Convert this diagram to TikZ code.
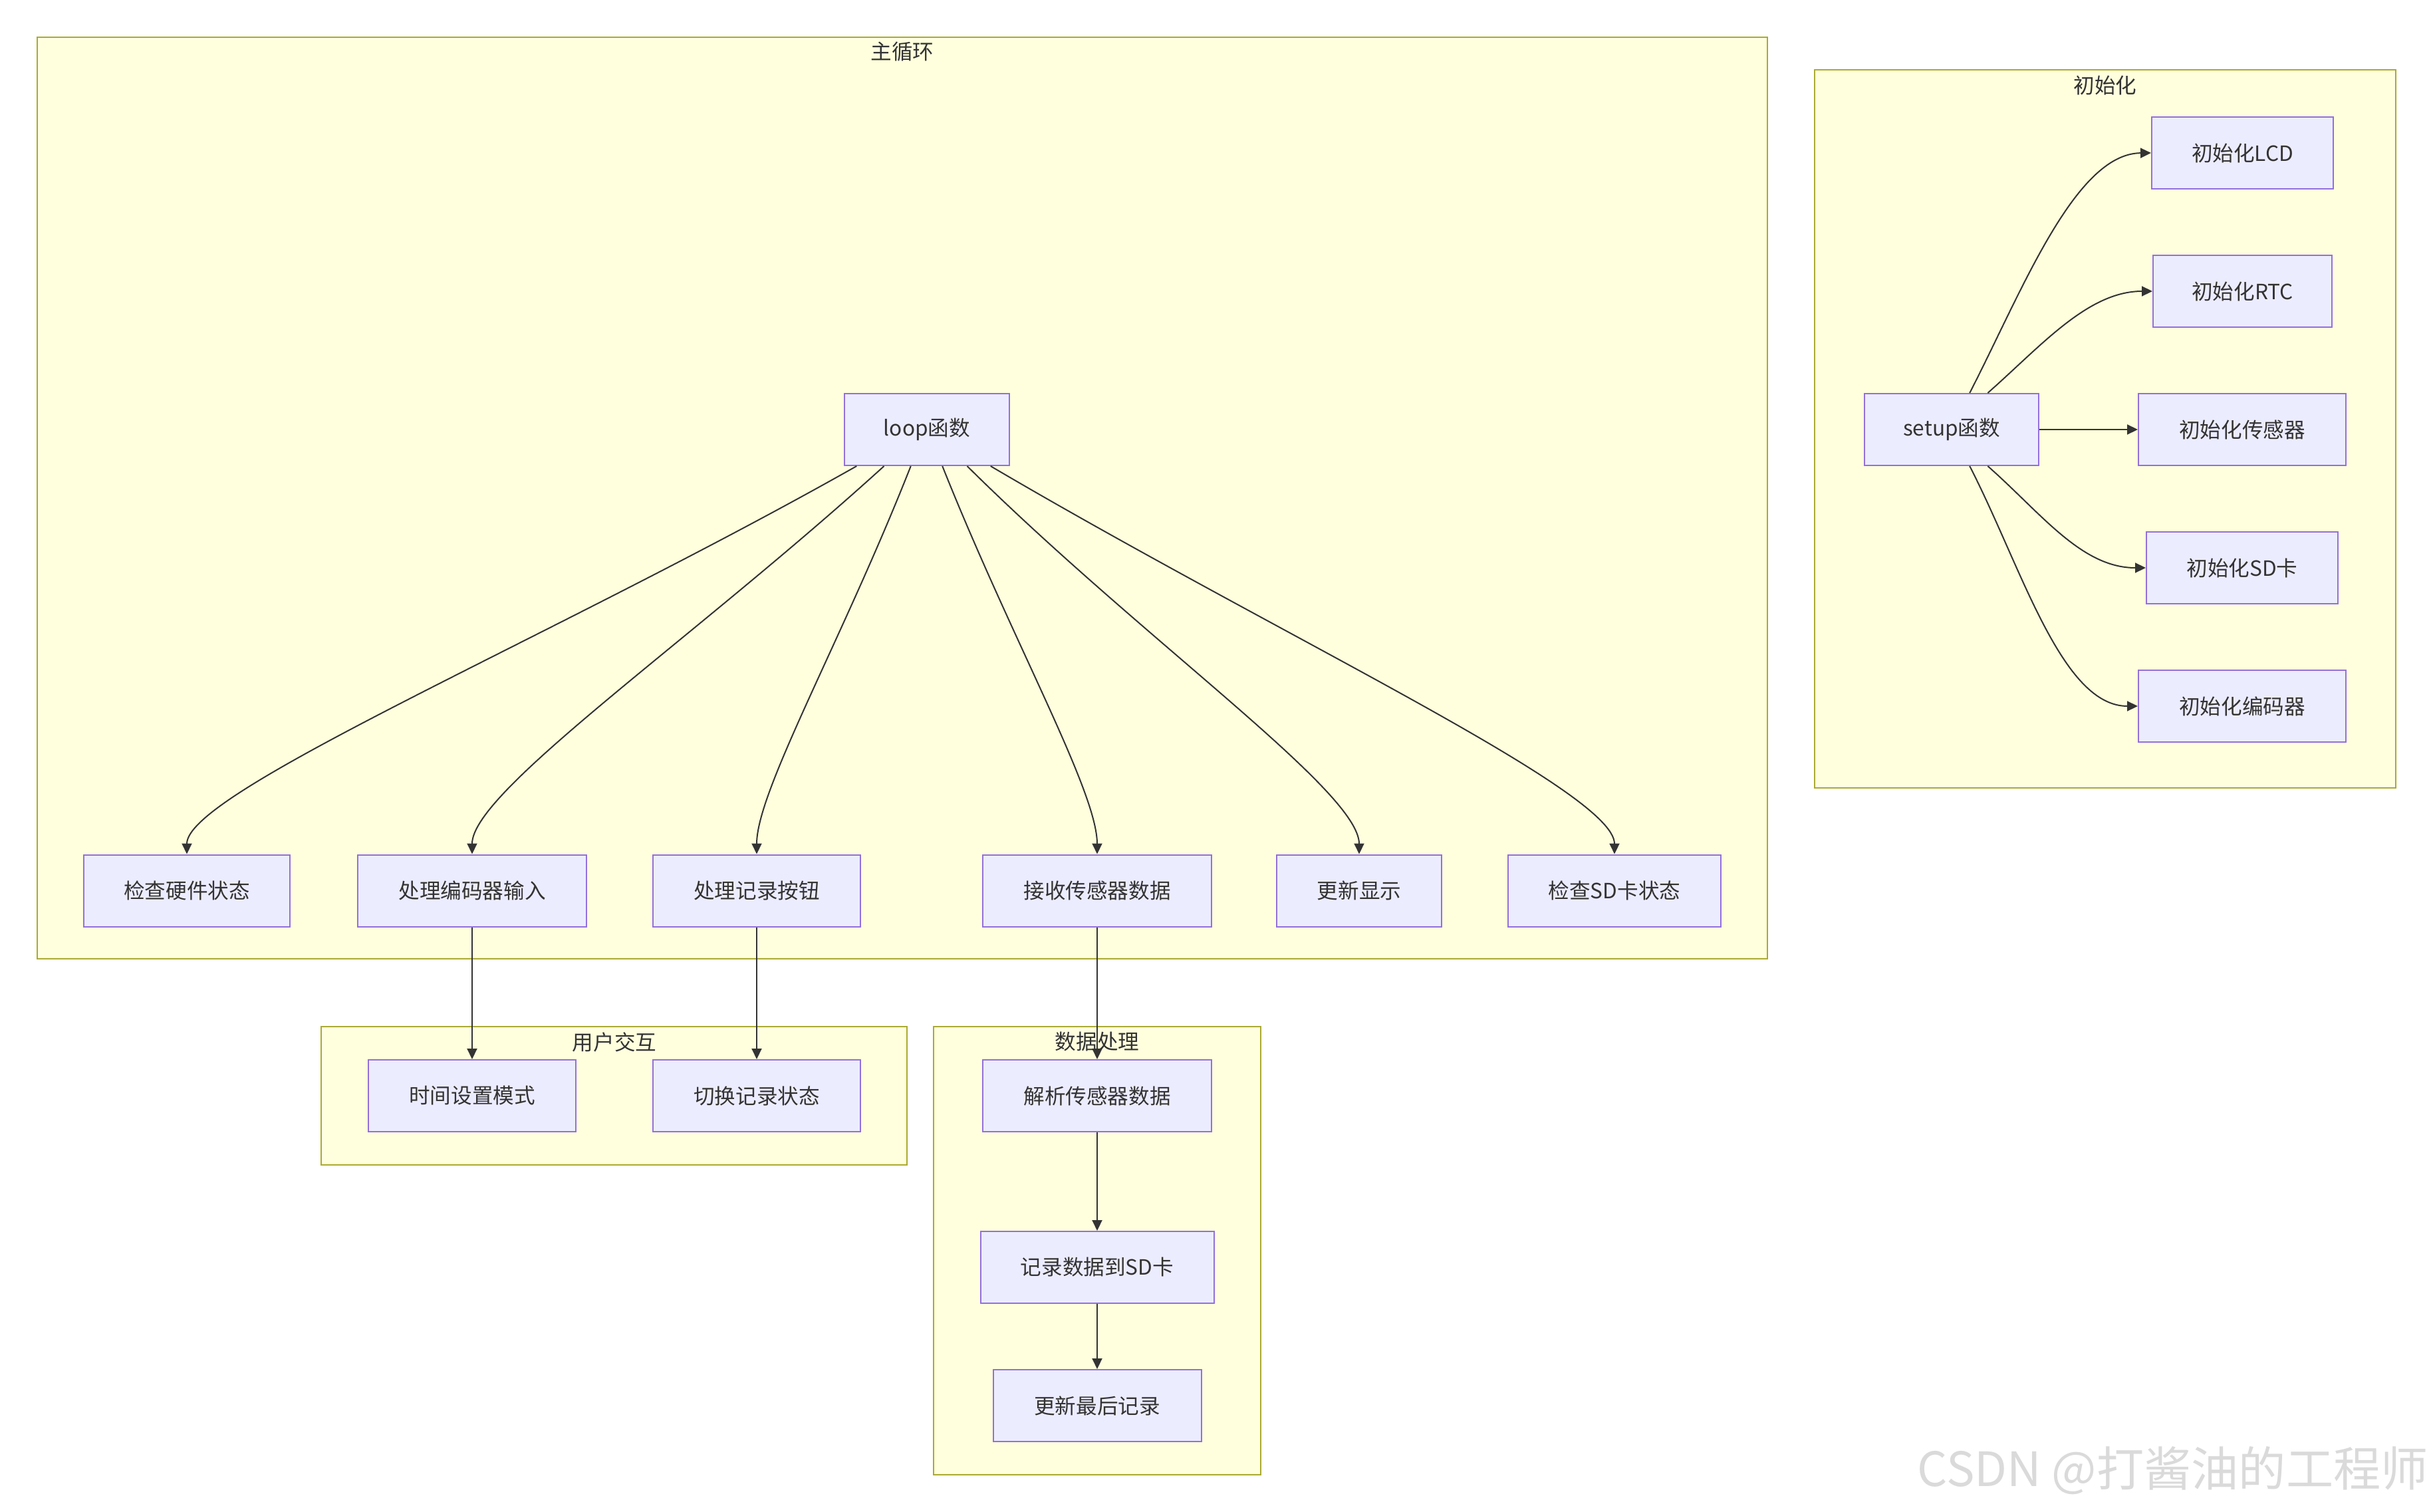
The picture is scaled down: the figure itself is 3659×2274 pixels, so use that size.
\documentclass[tikz,border=0pt]{standalone}
\usepackage{fontspec}
\setmainfont{Noto Sans CJK SC}
\usetikzlibrary{arrows.meta,calc}
\definecolor{nodefill}{HTML}{ECECFF}
\definecolor{nodeline}{HTML}{9370DB}
\definecolor{clusfill}{HTML}{FFFFDE}
\definecolor{clusline}{HTML}{AAAA33}
\definecolor{edgecol}{HTML}{333333}
\definecolor{txt}{HTML}{333333}
\definecolor{wm}{HTML}{DADADA}
\begin{document}
\begin{tikzpicture}[x=0.5pt,y=-0.5pt,
  box/.style={draw=nodeline,fill=nodefill,line width=1pt,minimum height=54pt,inner sep=0pt,text=txt,font=\fontsize{15.8pt}{18pt}\selectfont},
  clus/.style={draw=clusline,fill=clusfill,line width=1pt},
  ctitle/.style={text=txt,font=\fontsize{15.8pt}{18pt}\selectfont,inner sep=0pt},
  edge/.style={draw=edgecol,line width=1pt,-{Triangle[length=8pt,width=7.5pt]}}]
\useasboundingbox (0,0) rectangle (3659,2274);
\fill[white] (0,0) rectangle (3659,2274);
% clusters
\path[clus] (56,56) rectangle (2658,1442);
\path[clus] (2729,105) rectangle (3603,1185);
\path[clus] (483,1544) rectangle (1364,1752);
\path[clus] (1404,1544) rectangle (1896,2218);
\node[ctitle] (tmain) at (1357,78) {主循环};
\node[ctitle] (tinit) at (3166,128) {初始化};
\node[ctitle] (tuser) at (924,1567) {用户交互};
\node[ctitle] (tdata) at (1650,1567) {数据处理};
% main loop nodes
\node[box,minimum width=124pt] (loop) at (1394,646) {loop函数};
\node[box,minimum width=155pt] (hw) at (281,1339.5) {检查硬件状态};
\node[box,minimum width=172pt] (enc) at (710,1339.5) {处理编码器输入};
\node[box,minimum width=156pt] (rec) at (1138,1339.5) {处理记录按钮};
\node[box,minimum width=172pt] (recv) at (1650,1339.5) {接收传感器数据};
\node[box,minimum width=124pt] (disp) at (2044,1339.5) {更新显示};
\node[box,minimum width=160pt] (sdchk) at (2428,1339.5) {检查SD卡状态};
% user interaction
\node[box,minimum width=156pt] (tset) at (710,1648) {时间设置模式};
\node[box,minimum width=156pt] (tog) at (1138,1648) {切换记录状态};
% data processing
\node[box,minimum width=172pt] (parse) at (1650,1648) {解析传感器数据};
\node[box,minimum width=175.5pt] (save) at (1650,1906) {记录数据到SD卡};
\node[box,minimum width=156.5pt] (last) at (1650,2114) {更新最后记录};
% init
\node[box,minimum width=131pt] (setup) at (2935,646) {setup函数};
\node[box,minimum width=136.5pt] (lcd) at (3372.5,230) {初始化LCD};
\node[box,minimum width=134.5pt] (rtc) at (3372.5,438) {初始化RTC};
\node[box,minimum width=156pt] (sens) at (3372,646) {初始化传感器};
\node[box,minimum width=144pt] (sdi) at (3372,854) {初始化SD卡};
\node[box,minimum width=156pt] (enci) at (3372,1062) {初始化编码器};
% edges main loop
\draw[edge] ($(loop.south west)!0.077!(loop.south east)$) .. controls (830,960) and (281,1190) .. (hw.north);
\draw[edge] ($(loop.south west)!0.242!(loop.south east)$) .. controls (1040,964) and (710,1190) .. (enc.north);
\draw[edge] ($(loop.south west)!0.403!(loop.south east)$) .. controls (1266,964) and (1138,1190) .. (rec.north);
\draw[edge] ($(loop.south west)!0.593!(loop.south east)$) .. controls (1522,964) and (1650,1190) .. (recv.north);
\draw[edge] ($(loop.south west)!0.742!(loop.south east)$) .. controls (1720,964) and (2044,1190) .. (disp.north);
\draw[edge] ($(loop.south west)!0.883!(loop.south east)$) .. controls (1930,960) and (2428,1190) .. (sdchk.north);
% vertical edges
\draw[edge] (enc.south) -- (tset.north);
\draw[edge] (rec.south) -- (tog.north);
\draw[edge] (recv.south) -- (parse.north);
\draw[edge] (parse.south) -- (save.north);
\draw[edge] (save.south) -- (last.north);
% init edges
\draw[edge] ($(setup.north west)!0.603!(setup.north east)$) .. controls (3040,440) and (3120,231) .. (lcd.west);
\draw[edge] ($(setup.north west)!0.706!(setup.north east)$) .. controls (3070,520) and (3140,438) .. (rtc.west);
\draw[edge] (setup.east) -- (sens.west);
\draw[edge] ($(setup.south west)!0.706!(setup.south east)$) .. controls (3070,772) and (3130,854) .. (sdi.west);
\draw[edge] ($(setup.south west)!0.603!(setup.south east)$) .. controls (3040,852) and (3100,1062) .. (enci.west);
% watermark
\node[text=wm,font=\fontsize{35.6pt}{38pt}\selectfont,anchor=east,inner sep=0pt] (wmk) at (3652,2212) {CSDN @打酱油的工程师};
\end{tikzpicture}
\end{document}
